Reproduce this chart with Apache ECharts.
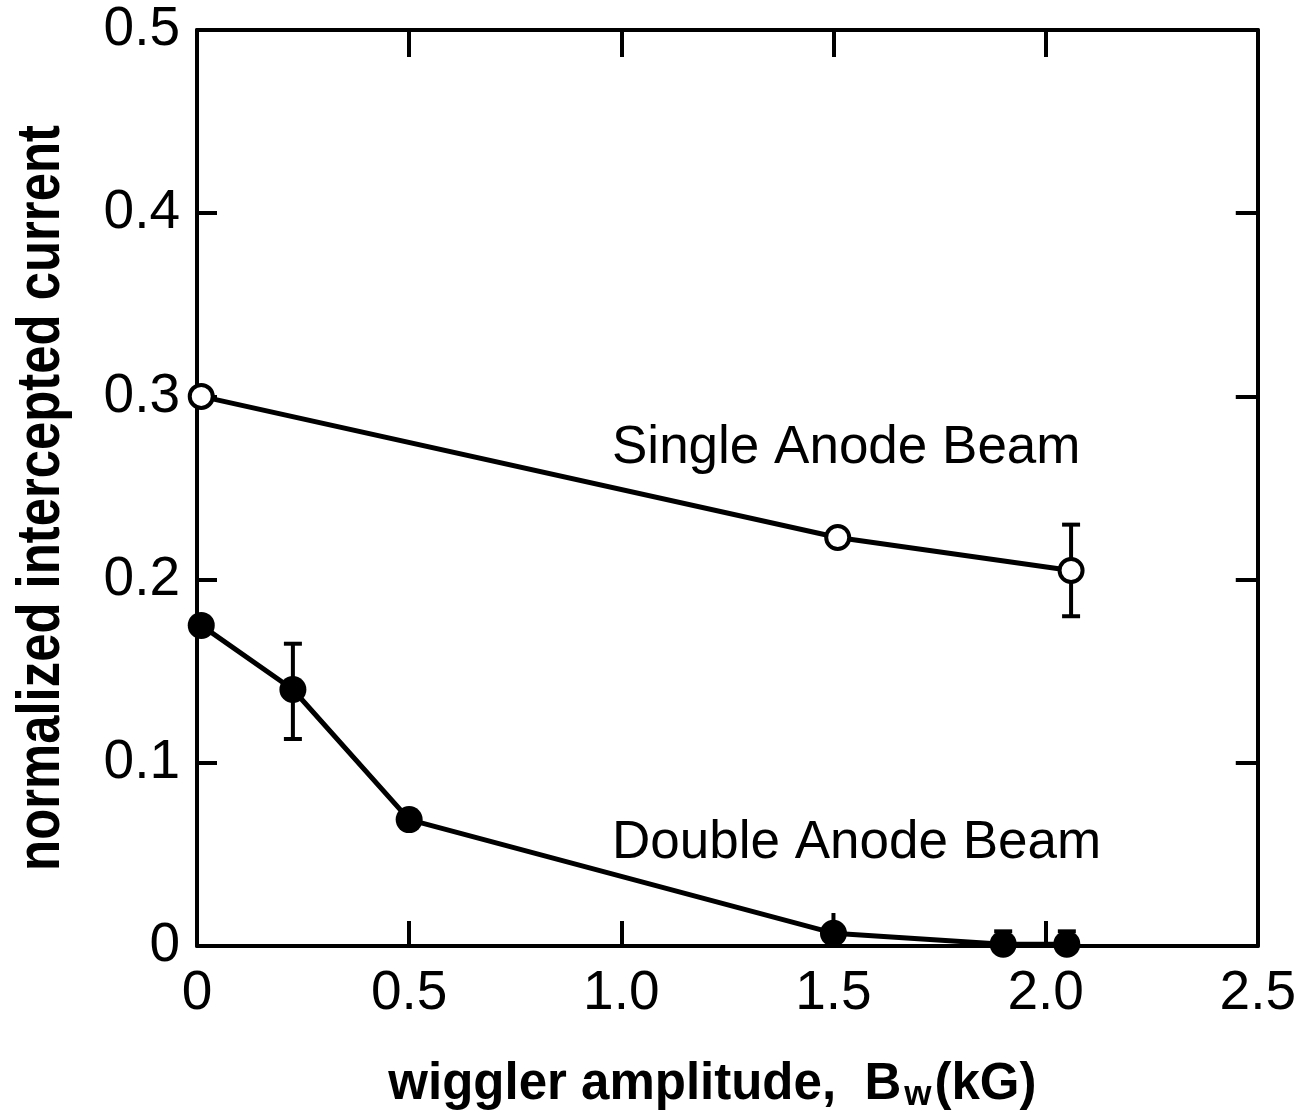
<!DOCTYPE html>
<html><head><meta charset="utf-8">
<script src="https://cdn.jsdelivr.net/npm/echarts@6/dist/echarts.min.js"></script>
<style>html,body{margin:0;padding:0;background:#fff}#c{width:1299px;height:1118px}</style>
</head><body><div id="c"></div>
<script>
// ---- data ----
const singleX = [0.01, 1.51, 2.06];
const singleY = [0.300, 0.223, 0.205];
const doubleX = [0.01, 0.226, 0.50, 1.50, 1.90, 2.05];
const doubleY = [0.175, 0.140, 0.069, 0.007, 0.001, 0.001];
const errX = [2.06, 0.226, 1.50, 1.90, 2.05];
const errLow = [0.180, 0.113, 0, 0, 0];
const errHigh = [0.230, 0.165, 0.018, 0.008, 0.008];
const errCapTop = [1, 1, 0, 1, 1];
const errCapBottom = [1, 1, 0, 0, 0];
const xTickLabels = ['0', '0.5', '1.0', '1.5', '2.0', '2.5'];
const yTickLabels = ['0', '0.1', '0.2', '0.3', '0.4', '0.5'];
const xTitle = 'wiggler amplitude,';
const xTitleSym = 'B';
const xTitleSub = 'w';
const xTitleUnit = '(kG)';
const yTitle = 'normalized intercepted current';
const labelSingle = 'Single Anode Beam';
const labelDouble = 'Double Anode Beam';

const FONT = '"Liberation Sans", Arial, sans-serif';
const chart = echarts.init(document.getElementById('c'), null, {renderer: 'canvas'});

const axisLine = {show: true, onZero: false, lineStyle: {color: '#000', width: 4}};
const baseX = {type: 'value', min: 0, max: 2.5, interval: 0.5, splitLine: {show: false}, axisLine};
const baseY = {type: 'value', min: 0, max: 0.5, interval: 0.1, splitLine: {show: false}, axisLine};

const option = {
  backgroundColor: '#fff',
  animation: false,
  grid: {left: 197, right: 37, top: 30, bottom: 164},
  xAxis: [
    Object.assign({}, baseX, {
      position: 'bottom',
      axisTick: {inside: true, length: 25, lineStyle: {color: '#000', width: 4}},
      axisLabel: {color: '#000', fontSize: 55, fontFamily: FONT, margin: 20,
        formatter: v => xTickLabels[Math.round(v / 0.5)]},
      name: xTitle + '  ' + '{b|' + xTitleSym + '}{s|' + xTitleSub + '}{b|' + xTitleUnit + '}',
      nameLocation: 'middle', nameGap: 110,
      nameTextStyle: {color: '#000', fontSize: 51, fontFamily: FONT, fontWeight: 'bold', padding: [0, 30, 0, 0],
        rich: {b: {fontSize: 51, fontFamily: FONT, fontWeight: 'bold', color: '#000'},
               s: {fontSize: 35, fontFamily: FONT, fontWeight: 'bold', color: '#000', verticalAlign: 'bottom', padding: [22, 3, 0, 3]}}}
    }),
    Object.assign({}, baseX, {
      position: 'top',
      axisTick: {inside: true, length: 27, lineStyle: {color: '#000', width: 4}},
      axisLabel: {show: false}
    })
  ],
  yAxis: [
    Object.assign({}, baseY, {
      position: 'left',
      axisTick: {inside: true, length: 20, lineStyle: {color: '#000', width: 4}},
      axisLabel: {color: '#000', fontSize: 55, fontFamily: FONT, margin: 17,
        formatter: v => yTickLabels[Math.round(v / 0.1)]}
    }),
    Object.assign({}, baseY, {
      position: 'right',
      axisTick: {inside: true, length: 22, lineStyle: {color: '#000', width: 4}},
      axisLabel: {show: false}
    })
  ],
  series: [
    {
      type: 'custom', xAxisIndex: 0, yAxisIndex: 0, z: 1, clip: false,
      data: errX.map((x, i) => [x, errLow[i], errHigh[i], errCapTop[i], errCapBottom[i]]),
      renderItem: (params, api) => {
        const x = api.value(0), lo = api.value(1), hi = api.value(2);
        const pLo = api.coord([x, lo]), pHi = api.coord([x, hi]);
        const w = 9;
        const st = {stroke: '#000', lineWidth: 4};
        const ch = [{type: 'line', shape: {x1: pLo[0], y1: pLo[1], x2: pHi[0], y2: pHi[1]}, style: st}];
        if (api.value(3)) ch.push({type: 'line', shape: {x1: pHi[0] - w, y1: pHi[1], x2: pHi[0] + w, y2: pHi[1]}, style: st});
        if (api.value(4)) ch.push({type: 'line', shape: {x1: pLo[0] - w, y1: pLo[1], x2: pLo[0] + w, y2: pLo[1]}, style: st});
        return {type: 'group', children: ch};
      }
    },
    {
      name: labelSingle, type: 'line', z: 3, clip: false,
      data: singleX.map((x, i) => [x, singleY[i]]),
      symbol: 'circle', symbolSize: 23,
      lineStyle: {color: '#000', width: 5},
      itemStyle: {color: '#fff', borderColor: '#000', borderWidth: 4}
    },
    {
      name: labelDouble, type: 'line', z: 3, clip: false,
      data: doubleX.map((x, i) => [x, doubleY[i]]),
      symbol: 'circle', symbolSize: 27,
      lineStyle: {color: '#000', width: 5},
      itemStyle: {color: '#000', borderColor: '#000', borderWidth: 0}
    }
  ],
  graphic: [
    {type: 'text', x: 42, y: 498, rotation: Math.PI / 2, scaleX: 0.82,
     style: {text: yTitle, fill: '#000', fontSize: 62, fontWeight: 'bold', fontFamily: FONT, align: 'center', verticalAlign: 'middle'}},
    {type: 'text', x: 612, y: 448, style: {text: labelSingle, fill: '#000', fontSize: 53, fontFamily: FONT, verticalAlign: 'middle', align: 'left'}},
    {type: 'text', x: 612, y: 843, style: {text: labelDouble, fill: '#000', fontSize: 53, fontFamily: FONT, verticalAlign: 'middle', align: 'left'}}
  ]
};
chart.setOption(option);
</script></body></html>
